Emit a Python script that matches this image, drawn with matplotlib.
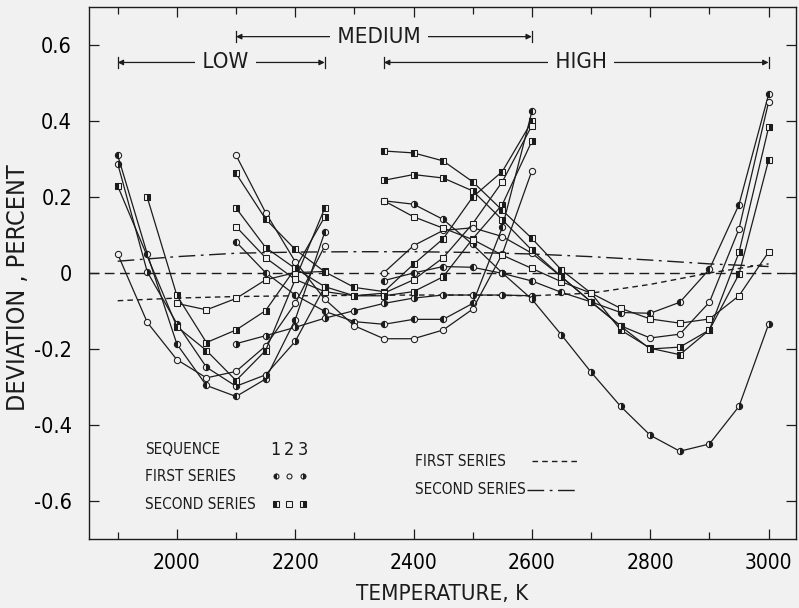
import matplotlib
matplotlib.use("Agg")
import matplotlib.pyplot as plt

# ---- data ---------------------------------------------------------------
# temperature grids (K)
low_t = [1900, 1950, 2000, 2050, 2100, 2150, 2200, 2250]
med_t = [2100, 2150, 2200, 2250, 2300, 2350, 2400, 2450, 2500, 2550, 2600]
high_t = [2350, 2400, 2450, 2500, 2550, 2600, 2650, 2700, 2750, 2800, 2850, 2900, 2950, 3000]

# low range, first series (circles) sequences 1-3
low_c1 = [0.310, 0.050, -0.187, -0.296, -0.325, -0.279, -0.123, 0.108]
low_c2 = [0.050, -0.130, -0.228, -0.276, -0.259, -0.192, -0.080, 0.071]
low_c3 = [0.288, 0.003, -0.133, -0.248, -0.298, -0.268, -0.180, -0.036]
# low range, second series (squares)
low_s1 = [0.229, None, -0.141, -0.204, -0.283, -0.204, -0.017, 0.171]
low_s2 = [None, None, -0.080, -0.097, -0.067, -0.018, 0.001, 0.004]
low_s3 = [None, 0.199, -0.059, -0.183, -0.150, -0.099, 0.012, 0.148]

# medium range
med_c1 = [0.082, 0.001, -0.058, -0.101, -0.128, -0.135, -0.122, -0.122, -0.080, 0.120, 0.425]
med_c2 = [0.310, 0.159, 0.030, -0.069, -0.139, -0.173, -0.173, -0.150, -0.095, 0.050, 0.269]
med_c3 = [-0.186, -0.165, -0.143, -0.119, -0.099, -0.080, -0.066, -0.058, -0.058, -0.058, -0.060]
med_s1 = [0.262, 0.142, 0.062, 0.003, -0.038, -0.049, 0.023, 0.090, 0.200, 0.267, 0.399]
med_s2 = [0.122, 0.040, -0.017, -0.049, -0.060, -0.053, -0.018, 0.040, 0.130, 0.240, 0.388]
med_s3 = [0.171, 0.067, 0.012, -0.036, -0.060, -0.060, -0.049, -0.010, 0.090, 0.180, 0.347]

# high range
high_c1 = [-0.020, 0.000, 0.017, 0.015, -0.001, -0.021, -0.051, -0.076, -0.104, -0.106, -0.077, 0.010, 0.180, 0.470]
high_c2 = [0.001, 0.072, 0.112, 0.119, 0.096, 0.052, -0.010, -0.076, -0.139, -0.171, -0.161, -0.077, 0.116, 0.450]
high_c3 = [0.190, 0.181, 0.141, 0.075, 0.000, -0.069, -0.163, -0.261, -0.351, -0.427, -0.469, -0.450, -0.351, -0.135]
high_s1 = [0.321, 0.316, 0.295, 0.240, 0.165, 0.091, 0.008, -0.053, -0.150, -0.198, -0.215, -0.150, -0.003, 0.297]
high_s2 = [0.190, 0.148, 0.118, 0.088, 0.047, 0.012, -0.023, -0.053, -0.093, -0.121, -0.132, -0.121, -0.060, 0.055]
high_s3 = [0.244, 0.259, 0.250, 0.216, 0.140, 0.060, -0.010, -0.076, -0.140, -0.200, -0.195, -0.150, 0.054, 0.383]

# fitted reference curves
fit_t = [1900, 2000, 2100, 2200, 2300, 2400, 2500, 2600, 2700, 2800, 2900, 3000]
fit_first = [-0.073, -0.066, -0.062, -0.060, -0.059, -0.058, -0.058, -0.060, -0.053, -0.030, 0.000, 0.024]
fit_second = [0.031, 0.043, 0.052, 0.055, 0.056, 0.056, 0.054, 0.050, 0.043, 0.034, 0.024, 0.017]

# temperature ranges
range_names = ["LOW", "MEDIUM", "HIGH"]
range_start = [1900, 2100, 2350]
range_end = [2250, 2600, 3000]
range_level = [0.554, 0.622, 0.554]
range_text_x = [2082, 2342, 2683]

yticks = [-0.6, -0.4, -0.2, 0, 0.2, 0.4, 0.6]
ytick_labels = ["-0.6", "-0.4", "-0.2", "0", "0.2", "0.4", "0.6"]
xticks = [2000, 2200, 2400, 2600, 2800, 3000]

# legend placement (data units)
seq_x = [2167, 2190, 2213]
leg_rows = [-0.465, -0.535, -0.609]
line_rows = [-0.495, -0.571]

# ---- style ----------------------------------------------------------------
plt.rcParams["font.family"] = ["DejaVu Sans"]
plt.rcParams["font.stretch"] = "condensed"

INK = "#1c1c1c"
BG = "#f1f1f1"

circle = dict(marker="o", markersize=4.5, markeredgewidth=0.75, markeredgecolor=INK)
square = dict(marker="s", markersize=4.6, markeredgewidth=0.75, markeredgecolor=INK)
seq_fill = {1: dict(fillstyle="left", markerfacecolor=INK, markerfacecoloralt=BG),
            2: dict(fillstyle="full", markerfacecolor=BG),
            3: dict(fillstyle="right", markerfacecolor=INK, markerfacecoloralt=BG)}

fig = plt.figure(figsize=(7.99, 6.08), dpi=100, facecolor=BG)
ax = fig.add_axes([0.111, 0.1135, 0.885, 0.875], facecolor=BG)


def draw(ts, vals, shape, seq):
    pts = [(t, v) for t, v in zip(ts, vals) if v is not None]
    x = [p[0] for p in pts]
    y = [p[1] for p in pts]
    ax.plot(x, y, color=INK, linewidth=0.9, zorder=3, **shape, **seq_fill[seq])


ax.axhline(0, color=INK, linewidth=1.0, dashes=(7, 4), zorder=2)
ax.plot(fit_t, fit_first, color=INK, linewidth=1.0, dashes=(4, 3), zorder=2)
ax.plot(fit_t, fit_second, color=INK, linewidth=1.0, dashes=(12, 4, 2, 4), zorder=2)

for ts, group in [(low_t, [low_c1, low_c2, low_c3, low_s1, low_s2, low_s3]),
                  (med_t, [med_c1, med_c2, med_c3, med_s1, med_s2, med_s3]),
                  (high_t, [high_c1, high_c2, high_c3, high_s1, high_s2, high_s3])]:
    for i, vals in enumerate(group):
        draw(ts, vals, circle if i < 3 else square, i % 3 + 1)

# range brackets
for name, t0, t1, lev, tx in zip(range_names, range_start, range_end, range_level, range_text_x):
    ax.annotate("", xy=(t0, lev), xytext=(t1, lev),
                arrowprops=dict(arrowstyle="<|-|>", color=INK, lw=0.9,
                                mutation_scale=8, shrinkA=0, shrinkB=0))
    ax.plot([t0, t0], [lev - 0.014, lev + 0.014], color=INK, lw=0.9)
    ax.plot([t1, t1], [lev - 0.014, lev + 0.014], color=INK, lw=0.9)
    ax.text(tx, lev, " " + name + " ", ha="center", va="center", fontsize=16, color=INK,
            bbox=dict(boxstyle="square,pad=0.05", fc=BG, ec="none"), zorder=4)

# legend drawn as text
LEG = 11
ax.text(1946, leg_rows[0], "SEQUENCE", fontsize=LEG, color=INK, va="center")
ax.text(1946, leg_rows[1], "FIRST SERIES", fontsize=LEG, color=INK, va="center")
ax.text(1946, leg_rows[2], "SECOND SERIES", fontsize=LEG, color=INK, va="center")
for k, t in enumerate(seq_x):
    ax.text(t, leg_rows[0], str(k + 1), fontsize=LEG + 2, color=INK, va="center", ha="center")
    ax.plot([t], [leg_rows[1]], color=INK, linestyle="none",
            **dict(circle, markersize=3.6), **seq_fill[k + 1])
    ax.plot([t], [leg_rows[2]], color=INK, linestyle="none",
            **dict(square, markersize=3.8), **seq_fill[k + 1])
ax.text(2402, line_rows[0], "FIRST SERIES", fontsize=LEG, color=INK, va="center")
ax.text(2402, line_rows[1], "SECOND SERIES", fontsize=LEG, color=INK, va="center")
ax.plot([2601, 2680], [line_rows[0]] * 2, color=INK, lw=1.0, dashes=(4, 3))
ax.plot([2592, 2680], [line_rows[1]] * 2, color=INK, lw=1.0, dashes=(12, 4, 2, 4))

ax.set_xlim(1851, 3046)
ax.set_ylim(-0.70, 0.70)
ax.set_yticks(yticks)
ax.set_yticklabels(ytick_labels)
ax.set_xticks(xticks)
ax.set_xticks([1900, 2100, 2300, 2500, 2700, 2900], minor=True)
ax.tick_params(which="both", direction="in", top=True, right=True, color=INK, width=0.9)
ax.tick_params(which="major", length=7, labelsize=15.5, pad=12)
ax.tick_params(which="minor", length=5)
ax.tick_params(axis="x", labelsize=15, pad=10)
for s in ax.spines.values():
    s.set_color(INK)
    s.set_linewidth(1.0)

ax.set_xlabel("TEMPERATURE, K", fontsize=16, color=INK, labelpad=8)
ax.set_ylabel("DEVIATION , PERCENT", fontsize=18, color=INK)
ax.yaxis.set_label_coords(-0.083, 0.472)

fig.savefig("out.png", dpi=100, facecolor=BG)
